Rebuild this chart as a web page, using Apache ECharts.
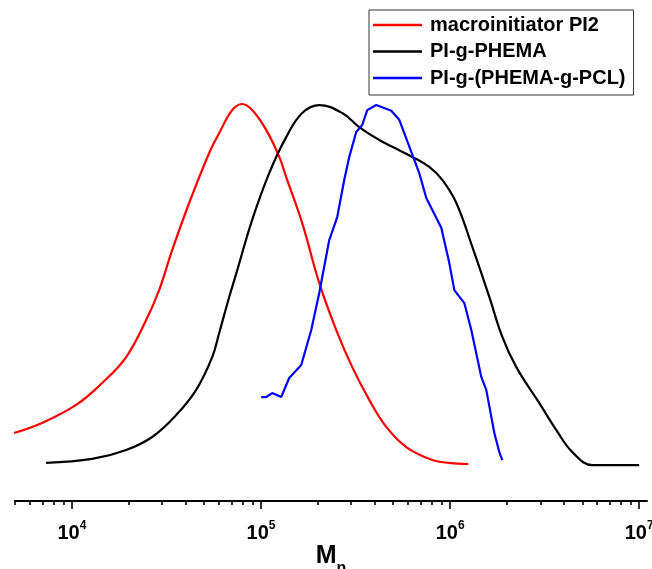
<!DOCTYPE html>
<html><head><meta charset="utf-8">
<script src="https://cdn.jsdelivr.net/npm/echarts@6/dist/echarts.min.js"></script>
<style>html,body{margin:0;padding:0;background:#fff}#c{width:652px;height:569px}</style>
</head><body><div id="c"></div>
<script>
const seriesNames = ['macroinitiator PI2', 'PI-g-PHEMA', 'PI-g-(PHEMA-g-PCL)'];
const seriesColors = ['#ff0000', '#000000', '#0000ff'];

// macroinitiator PI2
const pi2M = [4940, 6950, 10520, 14450, 19360, 24700, 28930, 33900, 41700, 53200, 60100, 70420, 79540, 89800, 106500, 124900, 135900, 165200, 203200, 250000, 303800, 373700, 459600, 586600, 804800, 990400, 1248000];
const pi2I = [0.086, 0.114, 0.164, 0.225, 0.297, 0.400, 0.483, 0.594, 0.725, 0.864, 0.919, 0.983, 1.000, 0.983, 0.928, 0.853, 0.797, 0.669, 0.503, 0.372, 0.269, 0.178, 0.103, 0.047, 0.011, 0.003, 0.000];

// PI-g-PHEMA
const pheM = [7305, 12790, 19360, 26570, 35590, 45400, 55200, 60100, 67900, 73900, 89800, 110500, 135900, 165200, 203200, 268900, 330800, 422200, 494700, 631000, 776200, 909400, 1079000, 1311000, 1612000, 1889000, 2240000, 2965000, 3648000, 4432000, 5655000, 10000000];
const pheI = [0.003, 0.014, 0.039, 0.075, 0.136, 0.206, 0.297, 0.364, 0.464, 0.528, 0.678, 0.808, 0.908, 0.975, 0.997, 0.975, 0.936, 0.900, 0.881, 0.853, 0.825, 0.789, 0.725, 0.603, 0.464, 0.353, 0.269, 0.169, 0.094, 0.033, -0.003, -0.003];

// PI-g-(PHEMA-g-PCL)
const pclM = [100200, 106500, 114600, 127900, 141000, 163200, 184400, 203200, 229600, 253000, 275500, 292900, 318900, 343100, 364700, 407000, 488700, 538600, 572400, 623400, 687100, 748300, 898400, 990400, 1053000, 1189000, 1295000, 1462000, 1554000, 1714000, 1821000, 1889000];
const pclI = [0.186, 0.186, 0.197, 0.186, 0.239, 0.275, 0.372, 0.475, 0.622, 0.686, 0.789, 0.853, 0.922, 0.942, 0.983, 0.997, 0.981, 0.956, 0.919, 0.867, 0.808, 0.739, 0.656, 0.558, 0.483, 0.447, 0.372, 0.242, 0.206, 0.086, 0.033, 0.011];

const majorTicks = [1e4, 1e5, 1e6, 1e7];
const majorTickExponents = ['4', '5', '6', '7'];
const minorTicks = [5000, 6000, 7000, 8000, 9000,
  20000, 30000, 40000, 50000, 60000, 70000, 80000, 90000,
  200000, 300000, 400000, 500000, 600000, 700000, 800000, 900000,
  2000000, 3000000, 4000000, 5000000, 6000000, 7000000, 8000000, 9000000];

const zip = (a, b) => a.map((v, i) => [v, b[i]]);
const FONT = '"Liberation Sans", Arial, sans-serif';

const chart = echarts.init(document.getElementById('c'), null, {renderer: 'canvas'});
chart.setOption({
  animation: false,
  backgroundColor: '#ffffff',
  grid: {left: 15, right: 5, top: 20, bottom: 68, containLabel: false, outerBoundsMode: 'none'},
  legend: {
    orient: 'vertical', left: 369, top: 10,
    padding: [5, 8, 7, 4], itemGap: 6.5,
    itemWidth: 49, itemHeight: 2.5, icon: 'rect',
    borderColor: '#333', borderWidth: 1,
    data: seriesNames,
    textStyle: {fontFamily: FONT, fontWeight: 'bold', fontSize: 20, lineHeight: 20, color: '#000', padding: [0, 0, 0, 3]}
  },
  xAxis: [{
    type: 'log', logBase: 10, min: 5000, max: 11000000,
    position: 'bottom',
    axisLine: {show: true, onZero: false, lineStyle: {color: '#000', width: 2}},
    axisTick: {show: true, inside: false, length: 8, customValues: majorTicks, lineStyle: {color: '#000', width: 1.6}},
    splitLine: {show: false},
    axisLabel: {
      show: true, margin: 19, customValues: majorTicks,
      formatter: function (v) {
        let best = 0, d = Infinity;
        majorTicks.forEach((t, i) => { const dd = Math.abs(Math.log10(t) - Math.log10(v)); if (dd < d) { d = dd; best = i; } });
        return '{b|10}{s|' + majorTickExponents[best] + '}';
      },
      rich: {
        b: {fontFamily: FONT, fontWeight: 'bold', fontSize: 20, lineHeight: 26, verticalAlign: 'middle', color: '#000'},
        s: {fontFamily: FONT, fontWeight: 'bold', fontSize: 12, lineHeight: 12, verticalAlign: 'top', color: '#000'}
      }
    },
    name: '{b|M}{s|n}', nameLocation: 'middle', nameGap: 43, nameMoveOverlap: false,
    nameTextStyle: {
      rich: {
        b: {fontFamily: FONT, fontWeight: 'bold', fontSize: 25, lineHeight: 25, verticalAlign: 'top', color: '#000'},
        s: {fontFamily: FONT, fontWeight: 'bold', fontSize: 16, lineHeight: 49, verticalAlign: 'middle', color: '#000'}
      }
    }
  }, {
    type: 'log', logBase: 10, min: 5000, max: 11000000,
    position: 'bottom', offset: 0,
    axisLine: {show: false, onZero: false},
    axisTick: {show: true, inside: false, length: 4, customValues: minorTicks, lineStyle: {color: '#000', width: 1.6}},
    axisLabel: {show: false},
    splitLine: {show: false}
  }],
  yAxis: {
    type: 'value', min: -0.1028, max: 1.2333, show: false, splitLine: {show: false}
  },
  series: [
    {name: seriesNames[0], type: 'line', xAxisIndex: 0, data: zip(pi2M, pi2I), showSymbol: false, symbol: 'none', smooth: 0.4, lineStyle: {color: seriesColors[0], width: 2.2}, itemStyle: {color: seriesColors[0]}},
    {name: seriesNames[1], type: 'line', xAxisIndex: 0, data: zip(pheM, pheI), showSymbol: false, symbol: 'none', smooth: 0.4, lineStyle: {color: seriesColors[1], width: 2.2}, itemStyle: {color: seriesColors[1]}},
    {name: seriesNames[2], type: 'line', xAxisIndex: 0, data: zip(pclM, pclI), showSymbol: false, symbol: 'none', smooth: false, lineStyle: {color: seriesColors[2], width: 2.2}, itemStyle: {color: seriesColors[2]}}
  ]
});
</script>
</body></html>
